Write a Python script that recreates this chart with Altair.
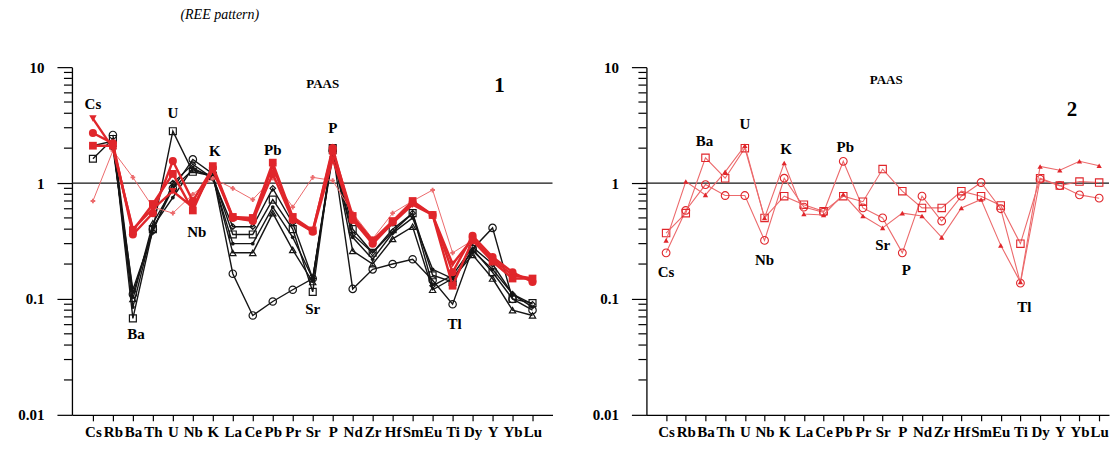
import altair as alt
import pandas as pd

elements = ["Cs", "Rb", "Ba", "Th", "U", "Nb", "K", "La", "Ce", "Pb", "Pr", "Sr",
            "P", "Nd", "Zr", "Hf", "Sm", "Eu", "Ti", "Dy", "Y", "Yb", "Lu"]
tick_positions = list(range(23))
major_ticks = [0.01, 0.1, 1, 10]
minor_ticks = [0.02, 0.03, 0.04, 0.05, 0.06, 0.07, 0.08, 0.09,
               0.2, 0.3, 0.4, 0.5, 0.6, 0.7, 0.8, 0.9,
               2, 3, 4, 5, 6, 7, 8, 9]

# ---- Panel 1 (black samples) ----
p1_black_square = [1.62, 2.4, 0.068, 0.40, 2.8, 1.25, 1.15, 0.36, 0.36, 0.72, 0.40, 0.115,
                   2.0, 0.40, 0.25, 0.40, 0.55, 0.16, 0.14, 0.27, 0.17, 0.10, 0.092]
p1_black_circle = [None, 2.6, 0.11, 0.40, 0.9, 1.6, 1.2, 0.165, 0.072, 0.095, 0.12, 0.15,
                   1.9, 0.122, 0.18, 0.20, 0.22, 0.145, 0.09, 0.27, 0.41, 0.10, 0.08]
p1_black_triangle = [None, 2.2, 0.10, 0.45, 0.9, 1.3, 1.15, 0.25, 0.25, 0.55, 0.265, 0.14,
                     1.9, 0.26, 0.20, 0.33, 0.42, 0.12, 0.15, 0.24, 0.15, 0.08, 0.072]
p1_black_dot = [2.1, 2.3, 0.085, 0.42, 0.75, 1.35, 1.1, 0.30, 0.30, 0.62, 0.34, 0.15,
                1.7, 0.34, 0.22, 0.37, 0.50, 0.18, 0.15, 0.26, 0.18, 0.11, 0.085]
p1_black_diamond = [None, 2.0, 0.12, 0.38, 1.0, 1.45, 1.1, 0.42, 0.42, 0.9, 0.45, 0.15,
                    1.8, 0.36, 0.25, 0.38, 0.55, 0.13, 0.16, 0.28, 0.20, 0.11, 0.09]
# ---- Panel 1 (red samples) ----
p1_red_tridown = [3.6, 2.0, 0.40, 0.60, 0.85, 0.62, 1.3, 0.50, 0.48, 1.4, 0.50, 0.38,
                  1.6, 0.50, 0.30, 0.45, 0.65, 0.53, 0.20, 0.33, 0.22, 0.16, 0.15]
p1_red_circle = [2.7, 2.2, 0.36, 0.55, 1.55, 0.70, 1.35, 0.50, 0.47, 1.2, 0.48, 0.38,
                 2.0, 0.48, 0.30, 0.46, 0.68, 0.53, 0.17, 0.35, 0.23, 0.17, 0.14]
p1_red_square = [2.1, 2.1, 0.39, 0.66, 1.2, 0.58, 1.4, 0.51, 0.50, 1.5, 0.51, 0.39,
                 1.9, 0.52, 0.32, 0.47, 0.70, 0.53, 0.13, 0.32, 0.21, 0.15, 0.15]
p1_red_cross = [0.70, 1.9, 1.12, 0.62, 0.55, 0.80, 1.1, 0.90, 0.72, 1.1, 0.62, 1.12,
                1.05, 0.55, 0.33, 0.55, 0.70, 0.87, 0.25, 0.32, 0.22, 0.16, 0.15]

# ---- Panel 2 ----
p2_circle = [0.25, 0.58, 0.97, 0.78, 0.78, 0.32, 1.1, 0.62, 0.56, 1.54, 0.61, 0.50,
             0.25, 0.77, 0.47, 0.77, 1.01, 0.60, 0.137, 1.08, 0.95, 0.79, 0.74]
p2_square = [0.37, 0.55, 1.65, 1.1, 2.0, 0.50, 0.77, 0.65, 0.57, 0.77, 0.69, 1.32,
             0.85, 0.61, 0.61, 0.85, 0.77, 0.64, 0.30, 1.1, 0.95, 1.03, 1.01]
p2_triangle = [0.32, 1.03, 0.79, 1.25, 2.1, 0.50, 1.49, 0.54, 0.53, 0.80, 0.52, 0.41,
               0.55, 0.52, 0.34, 0.61, 0.72, 0.29, 0.14, 1.39, 1.29, 1.54, 1.41]

# ---- Annotations (label, element position, value) ----
p1_notes = ["Cs", "U", "K", "Pb", "P", "Nb", "Ba", "Sr", "Tl"]
p1_note_pos = [0, 4, 6.1, 9, 12, 5.2, 2.15, 11, 18.1]
p1_note_val = [4.8, 4.0, 1.89, 1.93, 2.98, 0.378, 0.05, 0.082, 0.061]
p2_notes = ["Ba", "U", "K", "Pb", "Cs", "Nb", "Sr", "P", "Tl"]
p2_note_pos = [1.95, 4.0, 6.1, 9.1, 0.0, 5.0, 11.0, 12.2, 18.2]
p2_note_val = [2.3, 3.2, 1.96, 2.04, 0.172, 0.215, 0.294, 0.179, 0.086]

FONT = "Liberation Serif"
BLACK = "#151515"
RED = "#e0262b"
RED_LIGHT = "#ec6a6c"

label_expr = "[" + ",".join("'%s'" % e for e in elements) + "][datum.value]"
y_label_expr = ("datum.value >= 10 ? '10' : datum.value >= 1 ? '1' : "
                "datum.value >= 0.1 ? '0.1' : '0.01'")


def x_enc(domain):
    return alt.X(
        "i:Q",
        scale=alt.Scale(domain=domain, nice=False, zero=False),
        axis=alt.Axis(values=tick_positions, labelExpr=label_expr, title=None, grid=False,
                      tickSize=6, labelPadding=4, labelFont=FONT, labelFontSize=15,
                      labelFontWeight="bold", labelColor="black", tickColor="black",
                      domainColor="black", labelOverlap=False, labelFlush=False,
                      domainWidth=1.3, tickWidth=1.2),
    )


y_enc = alt.Y(
    "v:Q",
    scale=alt.Scale(type="log", domain=[0.01, 10], nice=False),
    axis=alt.Axis(values=major_ticks, labelExpr=y_label_expr, title=None, grid=False,
                  tickSize=15, labelPadding=13, labelFont=FONT, labelFontSize=15,
                  labelFontWeight="bold", labelColor="black", tickColor="black",
                  domainColor="black", domainWidth=1.3, tickWidth=1.2, labelOverlap=False),
)


def sdf(vals):
    return pd.DataFrame([{"i": i, "v": v} for i, v in enumerate(vals) if v is not None])


def series_layers(vals, xe, line_color, line_w, mk_color, shape, filled, size, mk_w=1.2):
    d = sdf(vals)
    line = alt.Chart(d).mark_line(color=line_color, strokeWidth=line_w).encode(x=xe, y=y_enc)
    pts = alt.Chart(d).mark_point(shape=shape, filled=filled, size=size, color=mk_color,
                                  strokeWidth=mk_w, opacity=1).encode(x=xe, y=y_enc)
    return [line, pts]


def frame_layers(xe, width):
    one = alt.Chart(pd.DataFrame({"v": [1]})).mark_rule(color=BLACK, strokeWidth=1.3).encode(
        y=y_enc, x=alt.value(0), x2=alt.value(width))
    minor = alt.Chart(pd.DataFrame({"v": minor_ticks})).mark_rule(
        color="black", strokeWidth=1.2).encode(y=y_enc, x=alt.value(-8), x2=alt.value(0))
    return [one, minor]


def note_layer(names, pos, val, xe):
    d = pd.DataFrame({"i": pos, "v": val, "t": names})
    return alt.Chart(d).mark_text(font=FONT, fontSize=15, fontWeight="bold", color="black",
                                  baseline="middle", align="center").encode(
        x=xe, y=y_enc, text="t:N")


# ---------------- Panel 1 ----------------
W1 = 481
x1 = x_enc([-1.05, 23])
layers1 = frame_layers(x1, W1)
for vals, shape, filled, size in [
    (p1_black_circle, "circle", False, 55),
    (p1_black_triangle, "triangle-up", False, 40),
    (p1_black_diamond, "diamond", False, 30),
    (p1_black_dot, "circle", True, 14),
    (p1_black_square, "square", False, 48),
]:
    layers1 += series_layers(vals, x1, BLACK, 1.4, BLACK, shape, filled, size)
layers1 += series_layers(p1_red_cross, x1, RED_LIGHT, 1.0, RED_LIGHT, "cross", True, 22)
for vals, shape, size in [
    (p1_red_tridown, "triangle-down", 55),
    (p1_red_circle, "circle", 65),
    (p1_red_square, "square", 60),
]:
    layers1 += series_layers(vals, x1, RED, 2.4, RED, shape, True, size)
layers1.append(note_layer(p1_notes, p1_note_pos, p1_note_val, x1))
layers1.append(alt.Chart(pd.DataFrame({"t": ["PAAS"]})).mark_text(
    font=FONT, fontSize=13, fontWeight="bold", color="black", baseline="middle").encode(
    x=alt.value(251), y=alt.value(17), text="t:N"))
layers1.append(alt.Chart(pd.DataFrame({"t": ["1"]})).mark_text(
    font=FONT, fontSize=21, fontWeight="bold", color="black", baseline="middle").encode(
    x=alt.value(428), y=alt.value(19), text="t:N"))
layers1.append(alt.Chart(pd.DataFrame({"t": ["(REE pattern)"]})).mark_text(
    font=FONT, fontSize=14, fontStyle="italic", color="black", baseline="middle").encode(
    x=alt.value(148), y=alt.value(-52), text="t:N"))
panel1 = alt.layer(*layers1).properties(width=W1, height=348)

# ---------------- Panel 2 ----------------
W2 = 463
x2 = x_enc([-1, 22.5])
layers2 = frame_layers(x2, W2)
for vals, shape, filled, size in [
    (p2_circle, "circle", False, 60),
    (p2_square, "square", False, 55),
    (p2_triangle, "triangle-up", True, 28),
]:
    layers2 += series_layers(vals, x2, RED_LIGHT, 1.1, RED, shape, filled, size, mk_w=1.1)
layers2.append(note_layer(p2_notes, p2_note_pos, p2_note_val, x2))
layers2.append(alt.Chart(pd.DataFrame({"t": ["PAAS"]})).mark_text(
    font=FONT, fontSize=13, fontWeight="bold", color="black", baseline="middle").encode(
    x=alt.value(240), y=alt.value(13), text="t:N"))
layers2.append(alt.Chart(pd.DataFrame({"t": ["2"]})).mark_text(
    font=FONT, fontSize=21, fontWeight="bold", color="black", baseline="middle").encode(
    x=alt.value(426), y=alt.value(43), text="t:N"))
panel2 = alt.layer(*layers2).properties(width=W2, height=348)

chart = alt.hconcat(panel1, panel2, spacing=94, bounds="flush").properties(
    padding={"left": 9, "top": 0, "right": 0, "bottom": 0}
).configure_view(stroke=None)

chart.save("out.html", embed_options={"renderer": "svg", "actions": False})
